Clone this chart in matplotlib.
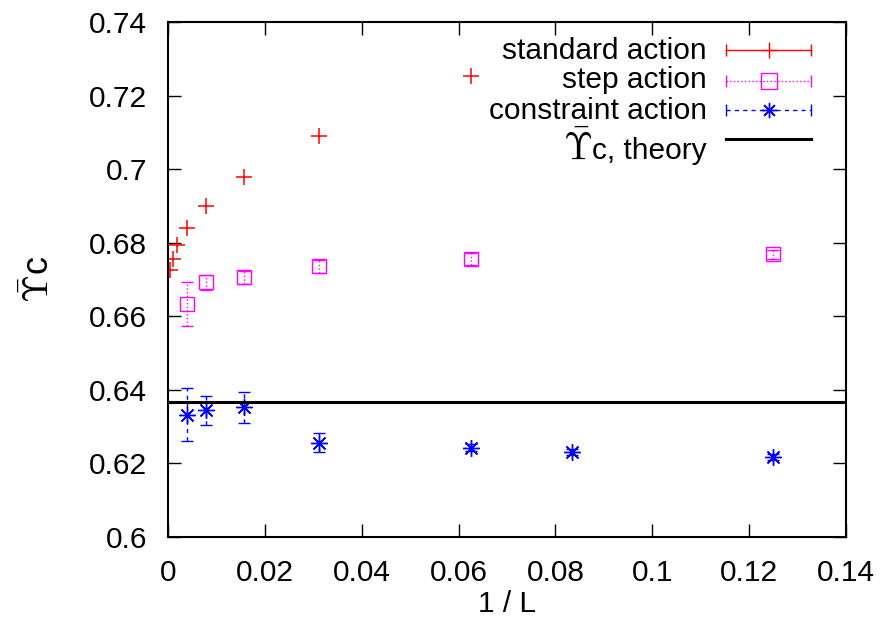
import numpy as np
import matplotlib.pyplot as plt
from matplotlib.ticker import FormatStrFormatter
from matplotlib.transforms import ScaledTranslation

plt.rcParams['font.family'] = ['Liberation Sans', 'DejaVu Sans']

# standard action
std_x = [1/2048, 1/1024, 1/512, 1/256, 1/128, 1/64, 1/32, 1/16]
std_y = [0.6725, 0.6755, 0.6793, 0.6840, 0.6899, 0.6978, 0.7089, 0.7254]
std_err = [0.0002, 0.0002, 0.0002, 0.0002, 0.0002, 0.0002, 0.0002, 0.0002]

# step action
step_x = [1/256, 1/128, 1/64, 1/32, 1/16, 1/8]
step_y = [0.6634, 0.6692, 0.6706, 0.6736, 0.6755, 0.6768]
step_err = [0.0060, 0.0020, 0.0018, 0.0017, 0.0016, 0.0012]

# constraint action
con_x = [1/256, 1/128, 1/64, 1/32, 1/16, 1/12, 1/8]
con_y = [0.6333, 0.6344, 0.6353, 0.6256, 0.6243, 0.6232, 0.6218]
con_err = [0.0073, 0.0040, 0.0042, 0.0026, 0.0010, 0.0008, 0.0008]

theory = 2 / np.pi

fig = plt.figure(figsize=(8.82, 6.25), dpi=100)
ax = fig.add_axes([0.1905, 0.1408, 0.7687, 0.8240])

ax.errorbar(std_x, std_y, yerr=std_err, fmt='+', color='red', ms=11,
            mew=1.1, elinewidth=1, capsize=0)
eb2 = ax.errorbar(step_x, step_y, yerr=step_err, fmt='s', color='magenta',
                  mfc='none', ms=10, mew=1, elinewidth=1, capsize=4.5)
eb2[2][0].set_linestyle(':')
eb3 = ax.errorbar(con_x, con_y, yerr=con_err, fmt='none', ecolor='blue',
                  elinewidth=1, capsize=4.5)
eb3[2][0].set_linestyle((0, (3, 3)))
ax.plot(con_x, con_y, ls='none', marker=(8, 2, 0), color='blue', ms=12, mew=1)
ax.axhline(theory, color='black', lw=2.2)

ax.set_xlim(0, 0.14)
ax.set_ylim(0.6, 0.74)
ax.set_xticks(np.arange(0, 0.1401, 0.02))
ax.set_yticks(np.arange(0.6, 0.7401, 0.02))
ax.xaxis.set_major_formatter(FormatStrFormatter('%g'))
ax.yaxis.set_major_formatter(FormatStrFormatter('%g'))
ax.tick_params(direction='in', length=9.5, width=1, top=True, right=True,
               labelsize=21.5)
ax.tick_params(axis='x', pad=16)
ax.tick_params(axis='y', pad=15)
for s in ax.spines.values():
    s.set_linewidth(1.5)

ax.set_xlabel('1 / L', fontsize=21.5, labelpad=2)
ax.text(-0.189, 0.5, r'$\bar{\Upsilon}$c', transform=ax.transAxes,
        rotation=90, ha='center', va='center', fontsize=26,
        math_fontfamily='cm')

# key drawn gnuplot style: label on the left, sample on the right
tx = 0.7946
x0, xm, x1 = 0.8226, 0.8864, 0.9484
rows = [
    ('standard action', 0.9276, 0.9462, 'red', '-', '+'),
    ('step action', 0.8714, 0.8860, 'magenta', ':', 's'),
    ('constraint action', 0.8117, 0.8291, 'blue', (0, (3, 3)), (8, 2, 0)),
]
for label, yb, ys, col, ls, mk in rows:
    ax.text(tx, yb, label, transform=ax.transAxes, ha='right', va='baseline',
            fontsize=21.5)
    ax.plot([x0, x1], [ys, ys], transform=ax.transAxes, color=col, ls=ls,
            lw=1, clip_on=False)
    ax.plot([x0, x1], [ys, ys], transform=ax.transAxes, color=col, ls='none',
            marker='|', ms=9, mew=1, clip_on=False)
    ax.plot([xm], [ys], transform=ax.transAxes, color=col, ls='none',
            marker=mk, ms=11, mfc='none', mew=1, clip_on=False)

ax.plot([x0, x1], [0.7722, 0.7722], transform=ax.transAxes, color='black',
        lw=2.2, clip_on=False)
t_sub = ax.text(tx, 0.7334, 'c, theory', transform=ax.transAxes, ha='right',
                va='baseline', fontsize=21.5)
fig.canvas.draw()
w = t_sub.get_window_extent().width
shift = ScaledTranslation(-w / fig.dpi, 0, fig.dpi_scale_trans)
ax.text(tx, 0.7334, r'$\bar{\Upsilon}$', transform=ax.transAxes + shift,
        ha='right', va='baseline', fontsize=27, math_fontfamily='cm')

fig.savefig('out.png', dpi=100)
